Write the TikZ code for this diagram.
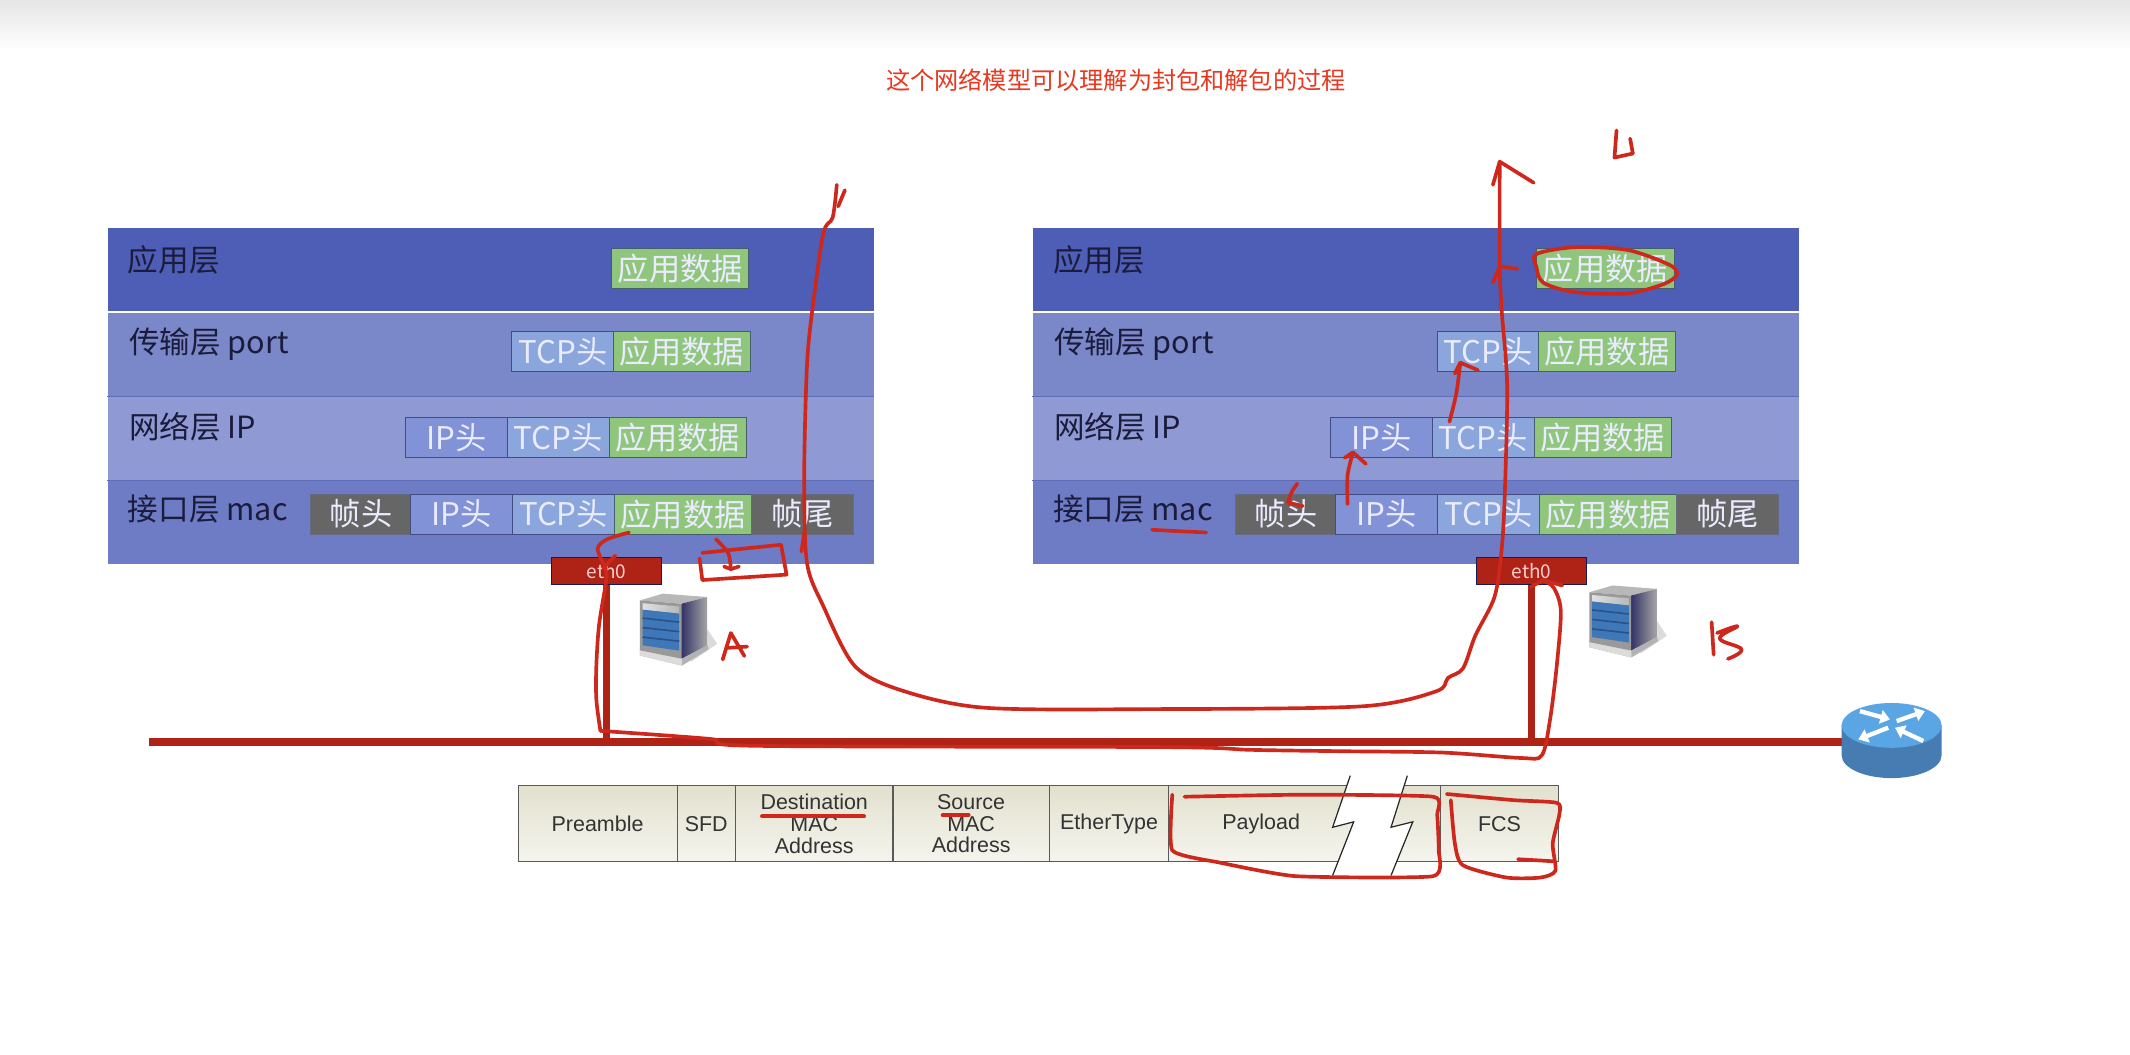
\documentclass[tikz,border=0pt]{standalone}
\usepackage{fontspec}
\setmainfont{Noto Sans CJK SC}
\newfontfamily\framefont{Liberation Sans}
\usetikzlibrary{arrows.meta}
\usetikzlibrary{shapes.geometric}

\definecolor{appblue}{HTML}{4E5DB6}
\definecolor{portblue}{HTML}{7A87C9}
\definecolor{ipblue}{HTML}{8F99D3}
\definecolor{macblue}{HTML}{6E7CC6}
\definecolor{edgeblue}{HTML}{5F6CB8}
\definecolor{darkink}{HTML}{1B1C3C}
\definecolor{datagreen}{HTML}{8FC67C}
\definecolor{tcpblue}{HTML}{8AA6DC}
\definecolor{ipbox}{HTML}{8192D6}
\definecolor{tailgray}{HTML}{666666}
\definecolor{wirered}{HTML}{AE2316}
\definecolor{inkred}{HTML}{CE281C}
\definecolor{titlered}{HTML}{E8381F}
\definecolor{frametop}{HTML}{E2E1CE}
\definecolor{framebottom}{HTML}{F5F4EE}
\definecolor{routertop}{HTML}{5AA5E4}
\definecolor{routerside}{HTML}{477CB2}
\definecolor{rackblue}{HTML}{3F78B8}
\definecolor{rackline}{HTML}{2B5288}

\tikzset{
	band/.style = {anchor = north west, inner sep = 0, minimum width = 564pt, minimum height = 61.5pt},
	layertext/.style = {anchor = west, inner sep = 0, text = darkink, font = \fontsize{22.5}{24}\selectfont},
	hdr/.style = {anchor = west, inner sep = 0, minimum width = 75pt, minimum height = 29.5pt, draw = edgeblue!70!black, line width = 0.7pt, text = white!92!blue, font = \fontsize{23}{24}\selectfont},
	databox/.style = {hdr, minimum width = 101pt, fill = datagreen, draw = datagreen!60!black!80!blue},
	tcpbox/.style = {hdr, fill = tcpblue},
	ipheadbox/.style = {hdr, fill = ipbox},
	framebox/.style = {hdr, fill = tailgray, draw = edgeblue!40!black!70},
	ethbox/.style = {anchor = north, inner sep = 0, minimum width = 81pt, minimum height = 20pt, fill = wirered, draw = darkink!90!blue, line width = 1pt, text = white!80!red, font = \fontsize{14}{14}\selectfont},
	wire/.style = {draw = wirered, line width = 5pt},
	cell/.style = {anchor = north west, inner sep = 0, minimum height = 56pt, draw = black!65, line width = 0.8pt, top color = frametop, bottom color = framebottom, align = center, font = \framefont\fontsize{15.8}{16}\selectfont, text = black!80},
	ink/.style = {draw = inkred, line width = 2.7pt, line cap = round, line join = round},
	routerarrow/.style = {white, line width = 3.2pt, -{Triangle[width = 10pt, length = 7pt]}},
	serverpic/.pic = {
		% shadow and base
		\fill[black!14] (49,25) -- (57,37) -- (38,50) -- (30,40) -- cycle;
		\fill[black!30] (0,41) -- (31,48) -- (50,38) -- (50.5,41) -- (31,53) -- (0,45.5) -- cycle;
		\fill[black!14] (0,41) -- (31,47.5) -- (31,53) -- (0,45.5) -- cycle;
		% body
		\fill[black!28] (0,5) -- (17,0) -- (49.6,2.5) -- (30.7,7.4) -- cycle;
		\shade[left color = blue!25!black!80, right color = black!35] (30.7,7.4) -- (49.6,2.5) -- (49.6,38) -- (30.7,47.9) -- cycle;
		\fill[black!40] (0,5) -- (30.7,7.4) -- (30.7,47.9) -- (0,41.7) -- cycle;
		\shade[left color = black!12, right color = black!28] (2,7) -- (29,9.5) -- (29,14.7) -- (2,11.8) -- cycle;
		\fill[rackblue] (2,11.8) -- (29,14.7) -- (29,42) -- (2,38) -- cycle;
		\draw[rackline, line width = 1.2pt] (2,18) -- (29,21);
		\draw[rackline, line width = 1.2pt] (2,25) -- (29,28);
		\draw[rackline, line width = 1.2pt] (2,32) -- (29,35);
	},
}

\begin{document}
\begin{tikzpicture}[x = 1pt, y = -1pt]
	\useasboundingbox (0,0) rectangle (1568,776);
	\fill[white] (0,0) rectangle (1568,776);
	\shade[top color = black!10, bottom color = white] (0,0) rectangle (1568,37);
	
	\node[anchor = center, inner sep = 0, text = titlered, font = \fontsize{17.8}{20}\selectfont] (title) at (821.5,59) {这个网络模型可以理解为封包和解包的过程};
	
	% host A
	\node[band, fill = appblue] (aApp) at (79,168) {};
	\node[band, fill = portblue] (aPort) at (79,230) {};
	\node[band, fill = ipblue] (aIp) at (79,292) {};
	\node[band, fill = macblue] (aMac) at (79,353.5) {};
	\draw[white, line width = 1.6pt] (aApp.south west) -- (aApp.south east);
	\draw[edgeblue, line width = 0.7pt] (aPort.south west) -- (aPort.south east);
	\draw[edgeblue, line width = 0.7pt] (aIp.south west) -- (aIp.south east);
	
	\node[layertext] (aAppText) at (94,191) {应用层};
	\node[layertext] (aPortText) at (95,253) {传输层 port};
	\node[layertext] (aIpText) at (95,314) {网络层 IP};
	\node[layertext] (aMacText) at (94,375) {接口层 mac};
	
	\node[databox] (aAppData) at (450,197.5) {应用数据};
	
	\node[tcpbox] (aPortTcp) at (376.5,259) {TCP头};
	\node[databox] (aPortData) at (451,259) {应用数据};
	
	\node[ipheadbox] (aIpHead) at (298,322) {IP头};
	\node[tcpbox] (aIpTcp) at (373,322) {TCP头};
	\node[databox] (aIpData) at (448,322) {应用数据};
	
	\node[framebox] (aHead) at (228,378.5) {帧头};
	\node[ipheadbox] (aMacIp) at (302,378.5) {IP头};
	\node[tcpbox] (aMacTcp) at (377,378.5) {TCP头};
	\node[databox] (aMacData) at (452,378.5) {应用数据};
	\node[framebox] (aTail) at (553,378.5) {帧尾};
	
	% host B
	\node[band, fill = appblue] (bApp) at (760,168) {};
	\node[band, fill = portblue] (bPort) at (760,230) {};
	\node[band, fill = ipblue] (bIp) at (760,292) {};
	\node[band, fill = macblue] (bMac) at (760,353.5) {};
	\draw[white, line width = 1.6pt] (bApp.south west) -- (bApp.south east);
	\draw[edgeblue, line width = 0.7pt] (bPort.south west) -- (bPort.south east);
	\draw[edgeblue, line width = 0.7pt] (bIp.south west) -- (bIp.south east);
	
	\node[layertext] (bAppText) at (775,191) {应用层};
	\node[layertext] (bPortText) at (776,253) {传输层 port};
	\node[layertext] (bIpText) at (776,314) {网络层 IP};
	\node[layertext] (bMacText) at (775,375) {接口层 mac};
	
	\node[databox] (bAppData) at (1131,197.5) {应用数据};
	
	\node[tcpbox] (bPortTcp) at (1057.5,259) {TCP头};
	\node[databox] (bPortData) at (1132,259) {应用数据};
	
	\node[ipheadbox] (bIpHead) at (979,322) {IP头};
	\node[tcpbox] (bIpTcp) at (1054,322) {TCP头};
	\node[databox] (bIpData) at (1129,322) {应用数据};
	
	\node[framebox] (bHead) at (909,378.5) {帧头};
	\node[ipheadbox] (bMacIp) at (983,378.5) {IP头};
	\node[tcpbox] (bMacTcp) at (1058,378.5) {TCP头};
	\node[databox] (bMacData) at (1133,378.5) {应用数据};
	\node[framebox] (bTail) at (1234,378.5) {帧尾};
	
	% network
	\node[ethbox] (ethA) at (446.5,410) {eth0};
	\node[ethbox] (ethB) at (1127.5,410) {eth0};
	
	\coordinate (busStart) at (110,546);
	\coordinate (busEnd) at (1365,546);
	\draw[wire, line width = 6pt] (busStart) -- (busEnd);
	\draw[wire] (ethA.south) -- (ethA.south |- busStart);
	\draw[wire] (ethB.south) -- (ethB.south |- busStart);
	
	\pic (serverA) at (471,437) {serverpic};
	\pic (serverB) at (1170,431) {serverpic};
	
	% router
	\fill[routerside] (1355.7,534) -- (1355.7,556) arc[start angle = 180, end angle = 0, x radius = 36.8, y radius = 16.8] -- (1429.3,534) -- cycle;
	\node[ellipse, inner sep = 0, minimum width = 73.6pt, minimum height = 33pt, fill = routertop] (router) at (1392.5,534) {};
	\draw[routerarrow] (1369.2,523.5) -- (1391.3,529.6);
	\draw[routerarrow] (1415.8,545.5) -- (1395,535.7);
	\draw[routerarrow] (1396.2,530.8) -- (1417,523.5);
	\draw[routerarrow] (1390,535.7) -- (1368,544.3);
	
	% frame
	\node[cell, minimum width = 117pt] (preamble) at (381,578) {Preamble};
	\node[cell, minimum width = 43pt] (sfd) at (498,578) {SFD};
	\node[cell, minimum width = 116pt] (dstMac) at (541,578) {Destination\\MAC\\Address};
	\node[cell, minimum width = 115pt] (srcMac) at (657,578) {Source\\MAC\\Address};
	\node[cell, minimum width = 88pt] (etherType) at (772,578) {EtherType};
	\node[cell, minimum width = 200pt] (payload) at (860,578) {Payload\hspace*{64pt}};
	\node[cell, minimum width = 87pt] (fcs) at (1060,578) {FCS};
	
	\fill[white] (994,571) -- (981,609) -- (996.5,605) -- (981,644.5) -- (1024,644.5) -- (1040,605) -- (1024,609) -- (1036,571) -- cycle;
	\draw[black!85, line width = 0.9pt] (994,571) -- (981,609) -- (996.5,605) -- (981,644.5);
	\draw[black!85, line width = 0.9pt] (1036,571) -- (1024,609) -- (1040,605) -- (1024,644.5);
	
	% pen marks
	\draw[ink] plot[smooth, tension = 0.5] coordinates {(616,136) (613,160) (606,172) (598,228) (594,270) (592,351) (594,414) (606,446) (629,490) (663,508) (725,521) (851,522) (1002,520) (1057,509) (1066,499) (1077,492) (1086,468) (1100,440) (1105,409) (1107.5,370) (1109.5,285) (1105.5,229) (1104,196) (1104,119)};
	\draw[ink] (622,140) -- (617,152);
	\draw[ink] (1099,136) -- (1104,119) -- (1129,134.5);
	\draw[ink] (1099,208) -- (1104,196) -- (1117,198);
	\draw[ink] (592,392) -- (590,406);
	
	\draw[ink] plot[smooth, tension = 0.5] coordinates {(1067,310.5) (1072,290) (1075,267)};
	\draw[ink] (1071,275) -- (1075,267) -- (1088,272.5);
	\draw[ink] plot[smooth, tension = 0.5] coordinates {(992,371) (992,350) (996,333)};
	\draw[ink] (990,337) -- (996,333) -- (1005.5,341.5);
	\draw[ink] plot[smooth, tension = 0.5] coordinates {(955,356) (951,362) (948,370)};
	\draw[ink] (948,370) -- (959,372.5);
	\draw[ink] plot[smooth, tension = 0.5] coordinates {(848,390) (867,391) (888,392)};
	
	\draw[ink] plot[smooth cycle, tension = 0.5] coordinates {(1159,182) (1198,184) (1229,195) (1234.5,202) (1225,209) (1198,216) (1159,215) (1136,208) (1131,196.5) (1131,187)};
	
	\draw[ink] plot[smooth, tension = 0.5] coordinates {(463,392) (447,397) (440,404) (446,420) (446,429) (441,460) (439,490) (439,515) (442,538)};
	\draw[ink] plot[smooth, tension = 0.5] coordinates {(442,538) (523,544) (555,549) (860,550) (921,552) (987,553) (1062,554) (1120,558) (1135,556) (1141,530) (1146,490) (1149,450) (1144,433) (1136,427)};
	\draw[ink] (453,409) -- (444,418);
	\draw[ink] (1127,432) -- (1136,427) -- (1150,431);
	
	\draw[ink] (517,407) -- (575,401) -- (579,423) -- (517,427) -- (515,411);
	\draw[ink] plot[smooth, tension = 0.5] coordinates {(527,397) (536,407) (538,419)};
	\draw[ink] (533,417) -- (538,419) -- (544,417);
	
	\draw[ink] (532,485.5) -- (538,466) -- (548,483);
	\draw[ink] (534.5,477) -- (550,476);
	\draw[ink] (1260,458) -- (1261.5,482);
	\draw[ink] plot[smooth, tension = 0.7] coordinates {(1264,466) (1279,461) (1266,470) (1282,478) (1272,485)};
	\draw[ink] (1190,96) -- (1188.5,116) -- (1202,113);
	\draw[ink] (1200,102) -- (1202,113);
	
	\draw[ink, line width = 3pt] (561,601) -- (636,601);
	\draw[ink, line width = 3pt] (694,600) -- (713,600);
	\draw[ink] plot[smooth, tension = 0.3] coordinates {(872,586.5) (960,585) (1055,586.5) (1058,600) (1059,625) (1055,645) (954,645) (898,635) (863,626) (863,585)};
	\draw[ink] plot[smooth, tension = 0.4] coordinates {(1065,584.5) (1114,589) (1146,591) (1148,599) (1143,621) (1145,641) (1134,646) (1109,646) (1077,637) (1071,621) (1068,589)};
	\draw[ink] (1117.5,632.5) -- (1143,634);
\end{tikzpicture}
\end{document}
